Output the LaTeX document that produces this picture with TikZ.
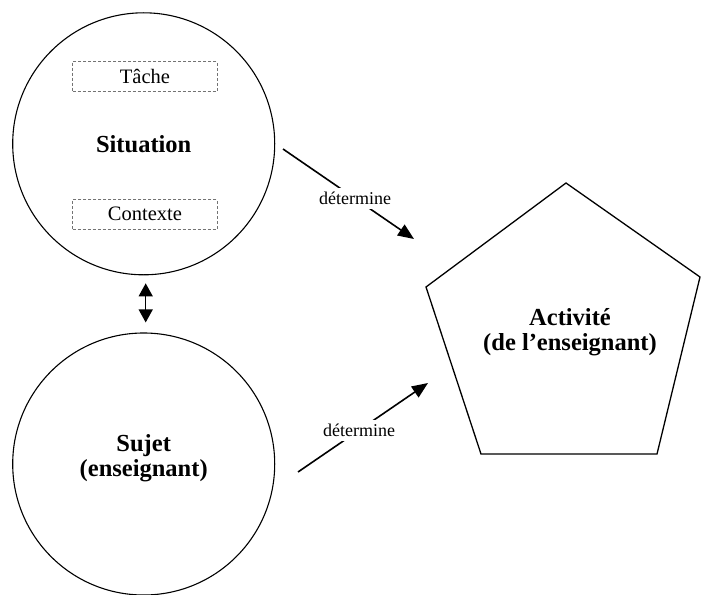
\documentclass[tikz,border=0pt]{standalone}
\usepackage{fontspec}
\setmainfont{Liberation Serif}
\usepackage{tikz}
\usetikzlibrary{calc}
\usetikzlibrary{arrows.meta}
\tikzset{>=latex}
\tikzset{
  bigcircle/.style={circle, draw, line width=1.1pt, minimum size=262pt, inner sep=0pt,
                    font=\fontsize{24.5}{25}\selectfont\bfseries, align=center},
  dashbox/.style={draw=black!55, dash pattern=on 3pt off 2pt, line width=0.9pt,
                  minimum width=144.6pt, minimum height=29.5pt, inner sep=0pt,
                  font=\fontsize{20.5}{24}\selectfont},
  bigtext/.style={font=\fontsize{24.5}{25}\selectfont\bfseries, align=center},
  flow/.style={-{Triangle[length=16pt,width=13pt]}, line width=1.6pt},
  flowlabel/.style={fill=white, inner sep=4pt, font=\fontsize{18}{20}\selectfont},
  twoway/.style={{Triangle[length=13pt,width=14pt]}-{Triangle[length=13pt,width=14pt]}, line width=1.3pt},
}

\begin{document}
\begin{tikzpicture}[x=1pt,y=-1pt]
    \useasboundingbox (0,0) rectangle (701,594);

    % the two circles
    \node[bigcircle] (situation) at (143.7,143.8) {Situation};
    \node[dashbox] (tache) at (145,76.2) {Tâche};
    \node[dashbox] (contexte) at (145,214.3) {Contexte};
    \node[bigcircle] (sujet) at (143.7,464) {};
    \node[bigtext] (sujettext) at ([yshift=6pt]sujet.center) {Sujet\\(enseignant)};

    % the pentagon
    \coordinate (ptop) at (566,183);
    \coordinate (pright) at (700,277);
    \coordinate (pbr) at (657,454);
    \coordinate (pbl) at (481,454);
    \coordinate (pleft) at (426,287);
    \draw[line width=1.3pt, line join=miter] (ptop) -- (pright) -- (pbr) -- (pbl) -- (pleft) -- cycle;
    \node[bigtext] (activite) at (570,332) {Activité\\(de l’enseignant)};

    % arrows
    \coordinate (a1s) at (283,149);
    \coordinate (a1e) at (414,239);
    \coordinate (a2s) at (298,472);
    \coordinate (a2e) at (428,383);
    \draw[flow] (a1s) -- node[flowlabel, pos=0.55] (det1) {détermine} (a1e);
    \draw[flow] (a2s) -- node[flowlabel, pos=0.47] (det2) {détermine} (a2e);

    \coordinate (d1) at ([xshift=2pt,yshift=-8pt]situation.south);
    \coordinate (d2) at ([xshift=2pt,yshift=10pt]sujet.north);
    \draw[twoway] (d1) -- (d2);
\end{tikzpicture}
\end{document}
